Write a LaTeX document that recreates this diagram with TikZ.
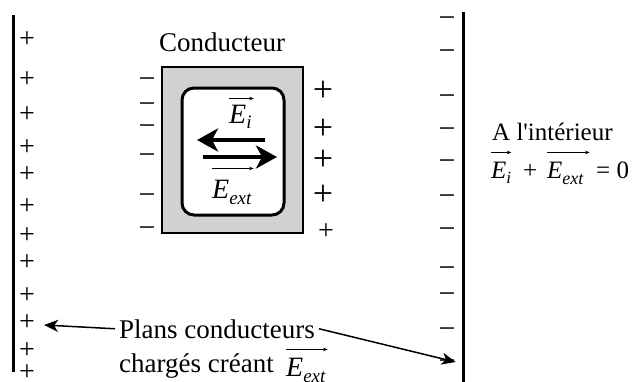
\documentclass[tikz,border=0pt]{standalone}
\usepackage{fontspec}
\setmainfont{Liberation Serif}
\newfontfamily\plainquote{Liberation Serif}[Ligatures=TeXOff]
\usetikzlibrary{arrows.meta}
\begin{document}
\begin{tikzpicture}[x=1pt,y=-1pt,
  plate/.style={line width=3pt},
  plussign/.style={inner sep=0pt,font=\fontsize{28}{28}\selectfont},
  bigplus/.style={inner sep=0pt,font=\fontsize{36}{36}\selectfont},
  minussign/.style={inner sep=0pt,font=\fontsize{30}{30}\selectfont},
  lbl/.style={inner sep=0pt,font=\fontsize{27}{30}\selectfont},
  eqlbl/.style={inner sep=0pt,anchor=base west,font=\fontsize{25}{28}\selectfont},
  vecnode/.style={inner sep=0pt,anchor=base west,font=\fontsize{28}{30}\selectfont\itshape},
  eqvec/.style={inner sep=0pt,anchor=base west,font=\fontsize{25}{28}\selectfont\itshape},
  vecarr/.style={line width=0.6pt,-{Stealth[length=4.5pt,width=3.5pt]}},
  field/.style={line width=4.5pt,-{Stealth[length=21pt,width=23pt,inset=6pt]}},
  pointer/.style={line width=1.5pt,-{Stealth[length=14pt,width=12pt,inset=4pt]}},
  shell/.style={draw,line width=1.5pt,fill=black!18,inner sep=0pt},
  cavity/.style={draw,line width=3pt,fill=white,rounded corners=12pt,inner sep=0pt},
]
\useasboundingbox (0,0) rectangle (637,381);

% charged plates
\coordinate (lpT) at (13,15);
\coordinate (lpB) at (13,372);
\coordinate (rpT) at (463,12);
\coordinate (rpB) at (463,385);
\draw[plate] (lpT) -- (lpB);
\draw[plate] (rpT) -- (rpB);

\foreach \y [count=\i] in {40,80,115,148,175,207,236,263,296,323,351,373}
  \node[plussign] (lp\i) at (27,\y) {+};
\foreach \y [count=\i] in {22,55,100,133,165,200,233,272,298,333,365}
  \node[minussign] (rm\i) at (447,\y) {−};

% conductor
\node[shell,minimum width=141pt,minimum height=166pt] (cond) at (232.5,150) {};
\node[cavity,minimum width=102pt,minimum height=127pt] (cav) at (233,151.5) {};
\node[lbl,anchor=base] (condlbl) at (222,51) {Conducteur};

\foreach \y [count=\i] in {83,108,130,159,199,232}
  \node[minussign] (cm\i) at (147,\y) {−};
\foreach \y [count=\i] in {91,129,160,195}
  \node[bigplus] (cp\i) at (323,\y) {+};
\node[plussign] (cp5) at (326,232) {+};

% fields inside
\coordinate (fi1) at (265,140);
\coordinate (fi2) at (197,140);
\coordinate (fe1) at (203,157);
\coordinate (fe2) at (277,157);
\draw[field] (fi1) -- (fi2);
\draw[field] (fe1) -- (fe2);

\node[vecnode] (ei) at (229,123) {E\raisebox{-5pt}{\fontsize{19}{19}\selectfont i}};
\draw[vecarr] ([yshift=6pt]ei.north west) -- ([yshift=6pt,xshift=2pt]ei.north east);
\node[vecnode] (ee) at (212,198) {E\raisebox{-6pt}{\fontsize{19}{19}\selectfont ext}};
\draw[vecarr] ([yshift=11pt]ee.north west) -- ([yshift=11pt,xshift=2pt]ee.north east);

% equation
\node[eqlbl] (inter) at (492,140) {A l{\plainquote '}intérieur};
\node[eqvec] (qi) at (491,178) {E\raisebox{-5pt}{\fontsize{17}{17}\selectfont i}};
\draw[vecarr] ([yshift=9pt]qi.north west) -- ([yshift=9pt]qi.north east);
\node[eqlbl] (qplus) at (523,178) {+};
\node[eqvec] (qe) at (547,178) {E\raisebox{-6pt}{\fontsize{18}{18}\selectfont ext}};
\draw[vecarr] ([yshift=9pt]qe.north west) -- ([yshift=9pt,xshift=6pt]qe.north east);
\node[eqlbl] (qzero) at (596,178) {= 0};

% bottom caption
\node[lbl,anchor=base west,inner sep=4pt] (plans) at (115,338) {Plans conducteurs};
\node[lbl,anchor=base west] (charg) at (119,372) {chargés créant};
\node[vecnode] (be) at (286,376) {E\raisebox{-6pt}{\fontsize{19}{19}\selectfont ext}};
\draw[vecarr] ([yshift=8pt]be.north west) -- ([yshift=8pt,xshift=2pt]be.north east);

\draw[pointer] (plans.west) -- ([xshift=9pt,yshift=-2pt]lp10.east);
\draw[pointer] (plans.east) -- ([yshift=3pt]rm11.east);
\end{tikzpicture}
\end{document}
